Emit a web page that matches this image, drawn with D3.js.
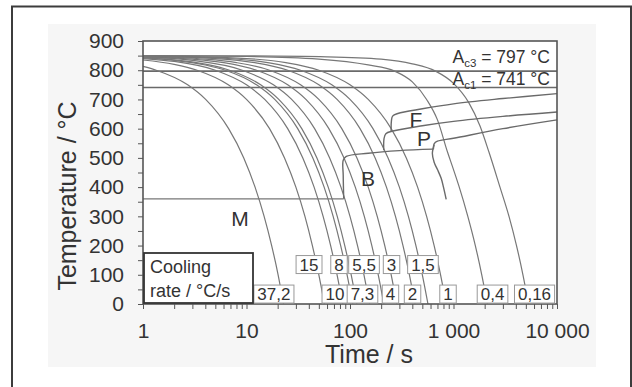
<!DOCTYPE html>
<html>
<head>
<meta charset="utf-8">
<script src="https://cdnjs.cloudflare.com/ajax/libs/d3/7.8.5/d3.min.js"></script>
<style>
body { margin: 0; background: #fff; }
text { font-family: "Liberation Sans", Arial, sans-serif; fill: #333; }
</style>
</head>
<body>
<div id="chart"></div>
<script>
// values (time in s, temperature in °C)
var rateLabels = ["37,2", "15", "10", "8", "7,3", "5,5", "4", "3", "2", "1,5", "1", "0,4", "0,16"];
var labelTime = [18.4, 40.2, 71.6, 78.3, 132, 136.6, 246, 252, 402, 507, 885, 2383, 6067];
var labelTemp = [34, 135, 34, 135, 34, 135, 34, 135, 34, 135, 34, 34, 34];

var curve_37_2 = [[1, 813], [1.34, 800], [2.7, 750], [4.03, 700], [6.72, 600], [9.41, 500], [12.1, 400], [14.8, 300], [17.5, 200], [20.2, 100], [22.8, 0]];
var curve_15 = [[1, 835], [2, 820], [3.33, 800], [6.67, 750], [10, 700], [16.7, 600], [23.3, 500], [30, 400], [36.7, 300], [43.3, 200], [50, 100], [56.7, 0]];
var curve_10 = [[1, 840], [2, 830], [5, 800], [10, 750], [15, 700], [25, 600], [35, 500], [45, 400], [55, 300], [65, 200], [75, 100], [85, 0]];
var curve_8 = [[1, 842], [2, 834], [4, 818], [6.25, 800], [12.5, 750], [18.75, 700], [31.25, 600], [43.75, 500], [56.25, 400], [68.75, 300], [81.25, 200], [93.75, 100], [106.25, 0]];
var curve_7_3 = [[1, 842.7], [2, 835.4], [4, 820.8], [6.85, 800], [13.7, 750], [20.5, 700], [34.2, 600], [47.9, 500], [61.6, 400], [75.3, 300], [89, 200], [102.7, 100], [116.4, 0]];
var curve_5_5 = [[1, 844.5], [3, 833.5], [9.1, 800], [18.2, 750], [27.3, 700], [45.5, 600], [63.6, 500], [81.8, 400], [100, 300], [118.2, 200], [136.4, 100], [154.5, 0]];
var curve_4 = [[1, 846], [3, 838], [6, 826], [12.5, 800], [25, 750], [37.5, 700], [62.5, 600], [87.5, 500], [112.5, 400], [137.5, 300], [162.5, 200], [187.5, 100], [212.5, 0]];
var curve_3 = [[1, 847], [4, 838], [8, 826], [16.7, 800], [33.3, 750], [50, 700], [83.3, 600], [116.7, 500], [150, 400], [183.3, 300], [216.7, 200], [250, 100], [283.3, 0]];
var curve_2 = [[1, 848], [5, 840], [12, 826], [25, 800], [50, 750], [75, 700], [125, 600], [175, 500], [225, 400], [275, 300], [325, 200], [375, 100], [425, 0]];
var curve_1_5 = [[1, 848.5], [6, 841], [16, 826], [33.3, 800], [66.7, 750], [100, 700], [166.7, 600], [233.3, 500], [300, 400], [366.7, 300], [433.3, 200], [500, 100], [566.7, 0]];
var curve_1 = [[1, 849], [10, 840], [24, 826], [50, 800], [100, 750], [150, 700], [250, 600], [350, 500], [450, 400], [550, 300], [650, 200], [750, 100], [850, 0]];
var curve_0_4 = [[1, 849.6], [10, 847], [50, 838], [150, 818], [270, 797], [400, 760], [550, 700], [700, 630], [875, 520], [1000, 460], [1125, 405], [1375, 300], [1625, 200], [1875, 100], [2125, 0]];
var curve_0_16 = [[1, 849.8], [10, 849], [60, 846], [200, 838], [400, 822], [670, 797], [1000, 755], [1400, 690], [1800, 610], [2200, 520], [2812, 400], [3437, 300], [4062, 200], [4687, 100], [5312, 0]];

var coolingCurves = [curve_37_2, curve_15, curve_10, curve_8, curve_7_3, curve_5_5, curve_4,
    curve_3, curve_2, curve_1_5, curve_1, curve_0_4, curve_0_16];

// transformation start lines
var ferriteStart = [[250, 592], [251, 625], [258, 643], [290, 652], [500, 668], [1000, 685], [3000, 703], [10000, 720]];
var pearliteStart = [[212, 526], [213, 565], [222, 583], [260, 592], [500, 610], [1000, 625], [3000, 642], [10000, 657]];
var bainiteStart = [[87, 360], [86, 440], [86, 492], [92, 505], [150, 516], [300, 525], [640, 530]];
var pearliteUpper = [[640, 530], [650, 548], [700, 557], [1000, 567], [3000, 600], [10000, 630]];
var pearliteTail = [[650, 545], [625, 515], [650, 485], [700, 460], [760, 430], [800, 400], [850, 358]];

var Ac3 = 797, Ac1 = 741, Ms = 360, MsEnd = 87;

var phaseNames = ["M", "B", "F", "P"];
var phaseTime = [8.65, 149, 433, 519];
var phaseTemp = [294, 431, 630, 568];

var yTicks = [0, 100, 200, 300, 400, 500, 600, 700, 800, 900];
var yMinor = [50, 150, 250, 350, 450, 550, 650, 750, 850];
var xTicks = [1, 10, 100, 1000, 10000];
var xTickLabels = ["1", "10", "100", "1 000", "10 000"];
var xMinor = [2, 3, 4, 5, 6, 7, 8, 9, 20, 30, 40, 50, 60, 70, 80, 90, 200, 300, 400, 500, 600, 700, 800, 900,
    2000, 3000, 4000, 5000, 6000, 7000, 8000, 9000];

// set up layout
var W = 632, H = 387;
var plot = { left: 143, right: 557, top: 41, bottom: 304 };

var x = d3.scaleLog().domain([1, 10000]).range([plot.left, plot.right]);
var y = d3.scaleLinear().domain([0, 900]).range([plot.bottom, plot.top]);

var svg = d3.select("#chart").append("svg")
    .attr("width", W)
    .attr("height", H);

// faint scan background and outer frame
svg.append("rect")
    .attr("x", 48).attr("y", 24)
    .attr("width", 548).attr("height", 343)
    .style("fill", "#f6f6f6");

svg.append("rect")
    .attr("x", 12).attr("y", 6.5)
    .attr("width", 619).attr("height", 420)
    .style("fill", "none")
    .style("stroke", "#3c3c3c")
    .style("stroke-width", 2);

svg.append("rect")
    .attr("x", plot.left).attr("y", plot.top)
    .attr("width", plot.right - plot.left).attr("height", plot.bottom - plot.top)
    .style("fill", "#fff");

// y-axis
var yAxis = d3.axisLeft(y)
    .tickValues(yTicks.concat(yMinor))
    .tickSize(5)
    .tickPadding(14)
    .tickFormat(function (d) { return yTicks.indexOf(d) >= 0 ? d : ""; });

var gy = svg.append("g")
    .attr("transform", "translate(" + plot.left + ",0)")
    .attr("color", "#555")
    .call(yAxis);
gy.select(".domain").remove();
gy.selectAll("text").style("font-size", "21px");

// x-axis
var xAxis = d3.axisBottom(x)
    .tickValues(xTicks.concat(xMinor))
    .tickSize(5)
    .tickPadding(14)
    .tickFormat(function (d) {
        var i = xTicks.indexOf(d);
        return i >= 0 ? xTickLabels[i] : "";
    });

var gx = svg.append("g")
    .attr("transform", "translate(0," + plot.bottom + ")")
    .attr("color", "#555")
    .call(xAxis);
gx.select(".domain").remove();
gx.selectAll("text").style("font-size", "21px");

// axis titles
svg.append("text")
    .attr("transform", "translate(76,196) rotate(-90)")
    .style("text-anchor", "middle")
    .style("font-size", "25px")
    .text("Temperature / °C");

svg.append("text")
    .attr("x", 369)
    .attr("y", 363)
    .style("text-anchor", "middle")
    .style("font-size", "25px")
    .text("Time / s");

var lineGray = "#777";

// critical temperatures
svg.selectAll(".crit")
    .data([Ac3, Ac1])
    .enter().append("line")
    .attr("class", "crit")
    .attr("x1", plot.left).attr("x2", plot.right)
    .attr("y1", y).attr("y2", y)
    .style("stroke", "#6a6a6a")
    .style("stroke-width", 1.6);

svg.append("line")
    .attr("x1", x(1)).attr("x2", x(MsEnd))
    .attr("y1", y(Ms)).attr("y2", y(Ms))
    .style("stroke", lineGray)
    .style("stroke-width", 1.3);

// cooling curves
var coolLine = d3.line()
    .x(function (d) { return x(d[0]); })
    .y(function (d) { return y(d[1]); })
    .curve(d3.curveMonotoneX);

svg.selectAll(".cool")
    .data(coolingCurves)
    .enter().append("path")
    .attr("class", "cool")
    .attr("d", coolLine)
    .style("fill", "none")
    .style("stroke", lineGray)
    .style("stroke-width", 1.2);

// transformation boundaries
var phaseLine = d3.line()
    .x(function (d) { return x(d[0]); })
    .y(function (d) { return y(d[1]); })
    .curve(d3.curveCatmullRom.alpha(0.5));

svg.selectAll(".phase")
    .data([ferriteStart, pearliteStart, bainiteStart, pearliteUpper, pearliteTail])
    .enter().append("path")
    .attr("class", "phase")
    .attr("d", phaseLine)
    .style("fill", "none")
    .style("stroke", "#6a6a6a")
    .style("stroke-width", 1.4);

// plot frame
svg.append("rect")
    .attr("x", plot.left).attr("y", plot.top)
    .attr("width", plot.right - plot.left).attr("height", plot.bottom - plot.top)
    .style("fill", "none")
    .style("stroke", "#555")
    .style("stroke-width", 1.6);

// phase letters
svg.selectAll(".phaseName")
    .data(phaseNames)
    .enter().append("text")
    .attr("class", "phaseName")
    .attr("x", function (d, i) { return x(phaseTime[i]); })
    .attr("y", function (d, i) { return y(phaseTemp[i]); })
    .attr("dy", ".36em")
    .style("text-anchor", "middle")
    .style("font-size", "21px")
    .text(function (d) { return d; });

// Ac labels
var acLabel = svg.append("g").style("font-size", "17.5px");
[[Ac3, "c3", "797", -8], [Ac1, "c1", "741", -2.5]].forEach(function (a) {
    var t = acLabel.append("text")
        .attr("x", plot.right - 7)
        .attr("y", y(a[0]) + a[3])
        .style("text-anchor", "end");
    t.append("tspan").text("A");
    t.append("tspan").attr("dy", 4).style("font-size", "11.5px").text(a[1]);
    t.append("tspan").attr("dy", -4).text(" = " + a[2] + " °C");
});

// cooling rate labels
var rl = svg.selectAll(".rate")
    .data(rateLabels)
    .enter().append("g")
    .attr("class", "rate")
    .attr("transform", function (d, i) {
        return "translate(" + x(labelTime[i]) + "," + y(labelTemp[i]) + ")";
    });

rl.append("rect")
    .style("fill", "#fff")
    .style("stroke", "#999")
    .style("stroke-width", 1);

rl.append("text")
    .attr("dy", ".36em")
    .style("text-anchor", "middle")
    .style("font-size", "17px")
    .text(function (d) { return d; });

rl.each(function () {
    var g = d3.select(this);
    var w = g.select("text").node().getComputedTextLength() + 7;
    g.select("rect")
        .attr("x", -w / 2).attr("y", -9)
        .attr("width", w).attr("height", 18);
});

// legend box
svg.append("rect")
    .attr("x", plot.left + 1).attr("y", 253)
    .attr("width", 109).attr("height", 50)
    .style("fill", "#fff")
    .style("stroke", "#333")
    .style("stroke-width", 1.8);

svg.append("text")
    .attr("x", 150).attr("y", 273)
    .style("font-size", "18px")
    .text("Cooling");

svg.append("text")
    .attr("x", 150).attr("y", 296.5)
    .style("font-size", "18px")
    .text("rate / °C/s");
</script>
</body>
</html>
